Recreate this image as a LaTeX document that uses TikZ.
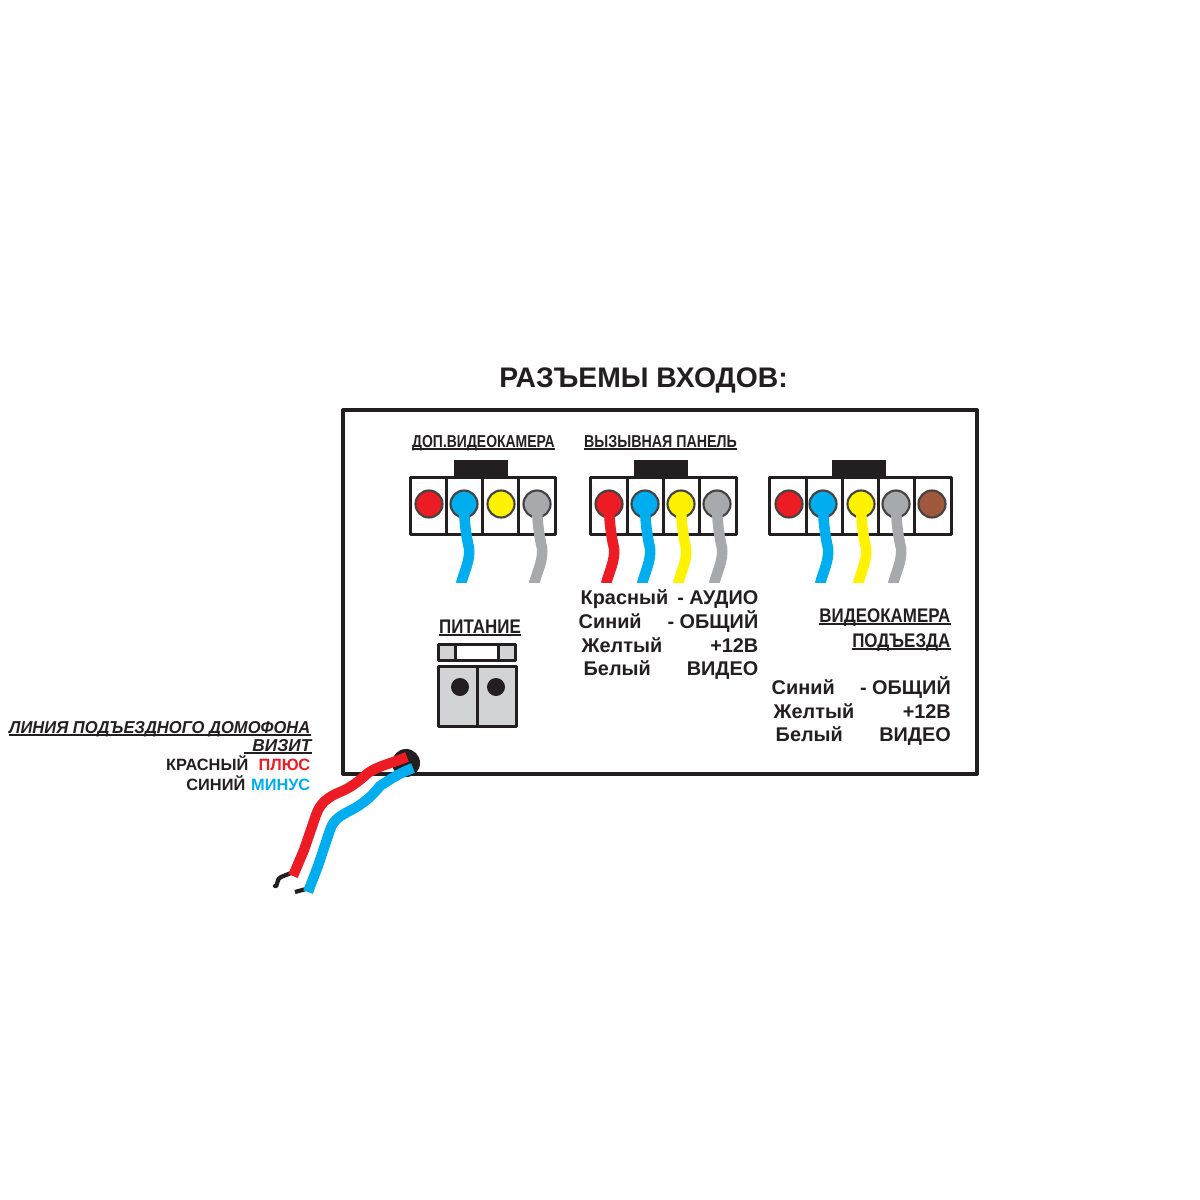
\documentclass[tikz,border=0pt]{standalone}
\usepackage{fontspec}
\setmainfont{Liberation Sans}
\definecolor{ink}{HTML}{231F20}
\definecolor{wred}{HTML}{ED1C24}
\definecolor{wblue}{HTML}{00AEEF}
\definecolor{wyellow}{HTML}{FFF200}
\definecolor{wgray}{HTML}{A7A9AC}
\definecolor{wbrown}{HTML}{A0583C}
\definecolor{blockgray}{HTML}{D1D3D4}
\tikzset{
	txt/.style={inner sep=0pt,text=ink,font=\fontsize{5.65}{6}\selectfont\bfseries},
	small/.style={txt,font=\fontsize{4.65}{6}\selectfont\bfseries},
	head/.style={txt,xscale=.81,font=\fontsize{4.9}{6}\selectfont\bfseries},
	bighead/.style={txt,xscale=.86,font=\fontsize{5.6}{6}\selectfont\bfseries},
	cell/.style={draw=ink,line width=.85pt,fill=white},
	pin/.style={circle,draw=ink!85,line width=.6pt,minimum size=.27cm,inner sep=0pt,fill=#1},
	wire/.style={line width=3pt,draw=#1},
	ulin/.style={draw=ink,line width=.45pt},
}
% one wire leaving a pin, the tail swings out and comes back
\newcommand{\wirefrom}[2]{\draw[wire=#1] (#2.center) .. controls +(0,15) and +(-3,-12) .. ++(5,44) .. controls +(1.5,12) and +(3,-12) .. ++(-8,36);}
\begin{document}
\begin{tikzpicture}[x=.01cm,y=-.01cm,line join=round]
	\useasboundingbox (0,0) rectangle (1200,1200);
	\node[txt,anchor=base,font=\fontsize{8.05}{9}\selectfont\bfseries] (title) at (643.5,387) {РАЗЪЕМЫ ВХОДОВ:};
	\draw[draw=ink,line width=1.15pt] (343,410) rectangle (977,774);
	% connector bodies
	\foreach \tabx in {454,634,832}{
		\fill[ink] (\tabx,460) rectangle +(54,17);
	}
	\draw[cell] (410,477) rectangle (555,534) (446,477)--(446,534) (482,477)--(482,534) (518,477)--(518,534);
	\draw[cell] (590,477) rectangle (736,534) (627,477)--(627,534) (663,477)--(663,534) (699,477)--(699,534);
	\draw[cell] (769,477) rectangle (951,534) (806,477)--(806,534) (842,477)--(842,534) (878,477)--(878,534) (914,477)--(914,534);
	% pins
	\foreach \pinname/\xx/\col in {a1/429/wred,a2/464/wblue,a3/501/wyellow,a4/537/wgray,
		b1/609/wred,b2/645/wblue,b3/681/wyellow,b4/717/wgray,
		c1/789/wred,c2/823/wblue,c3/861/wyellow,c4/896/wgray,c5/932/wbrown}{
		\node[pin=\col] (\pinname) at (\xx,504) {};
	}
	\begin{scope}
		\clip (0,0) rectangle (1200,582);
		\foreach \col/\pinname in {wblue/a2,wgray/a4,wred/b1,wblue/b2,wyellow/b3,wgray/b4,wblue/c2,wyellow/c3,wgray/c4}{
			\wirefrom{\col}{\pinname}
		}
	\end{scope}
	% headings
	\node[head,anchor=base] (doplabel) at (483.5,447) {ДОП.ВИДЕОКАМЕРА};
	\node[head,anchor=base,xscale=1.02] (panellabel) at (660.5,447) {ВЫЗЫВНАЯ ПАНЕЛЬ};
	\node[bighead,anchor=base] (powerlabel) at (480,633) {ПИТАНИЕ};
	\node[bighead,anchor=base east] (camlabel) at (951,622) {ВИДЕОКАМЕРА};
	\node[bighead,anchor=base east] (entrlabel) at (951,647) {ПОДЪЕЗДА};
	\foreach \lab in {doplabel,panellabel,powerlabel,camlabel,entrlabel}{
		\draw[ulin] ([yshift=-.6pt]\lab.base west) -- ([yshift=-.6pt]\lab.base east);
	}
	% wire legends
	\foreach \yy/\xx/\colname/\signame in {604/580/Красный/- АУДИО,628/578/Синий/- ОБЩИЙ,652/581/Желтый/+12В,675/583/Белый/ВИДЕО}{
		\node[txt,anchor=base west] (col\yy) at (\xx,\yy) {\colname};
		\node[txt,anchor=base east] (sig\yy) at (759,\yy) {\signame};
	}
	\foreach \yy/\xx/\colname/\signame in {694/771/Синий/- ОБЩИЙ,718/773/Желтый/+12В,741/775/Белый/ВИДЕО}{
		\node[txt,anchor=base west] (col\yy) at (\xx,\yy) {\colname};
		\node[txt,anchor=base east] (sig\yy) at (951.5,\yy) {\signame};
	}
	% power block
	\draw[cell,fill=blockgray] (438,644) rectangle (515,660);
	\draw[cell] (455,644) rectangle (498,660);
	\draw[cell,fill=blockgray] (438,666) rectangle (516,726) (477,666)--(477,726);
	\fill[ink] (460,687) circle (9) (496,687) circle (9);
	% line going out through the gland
	\node[circle,fill=ink,minimum size=.28cm,inner sep=0pt] (gland) at (406,763) {};
	\draw[ink,line width=1.2pt,line cap=round] (291,873)--(281,877) to[out=180,in=-60] (275,886);
	\draw[ink,line width=1.2pt] (306,889)--(295,892);
	\draw[wire=wred,line width=2.9pt] (gland.center)++(1,-6) .. controls (392,763) and (378,766) .. (368,773) .. controls (358,782) and (350,788) .. (340,792) .. controls (328,797) and (320,803) .. (316,815) -- (304,850) -- (293,876);
	\draw[wire=wblue,line width=2.9pt] (gland.center)++(7,5) .. controls (402,772) and (392,778) .. (380,786) .. controls (372,796) and (365,802) .. (355,808) .. controls (342,815) and (334,818) .. (330,830) -- (318,866) -- (308,892);
	% line legend
	\node[txt,anchor=base east,xscale=.96,font=\fontsize{4.9}{6}\selectfont\bfseries\itshape] (linelabel) at (311,733) {ЛИНИЯ ПОДЪЕЗДНОГО ДОМОФОНА};
	\node[txt,anchor=base east,font=\fontsize{4.9}{6}\selectfont\bfseries\itshape] (brandlabel) at (312,751) {ВИЗИТ};
	\draw[ulin] ([yshift=-.6pt]linelabel.base west) -- ([yshift=-.6pt]linelabel.base east);
	\draw[ulin] ([yshift=-.6pt,xshift=-2.2pt]brandlabel.base west) -- ([yshift=-.6pt]brandlabel.base east);
	\node[small,anchor=base east] (redword) at (249,770) {КРАСНЫЙ};
	\node[small,anchor=base east,text=wred] (plusword) at (311,770) {ПЛЮС};
	\node[small,anchor=base east] (blueword) at (246,790) {СИНИЙ};
	\node[small,anchor=base east,text=wblue] (minusword) at (311,790) {МИНУС};
\end{tikzpicture}
\end{document}
